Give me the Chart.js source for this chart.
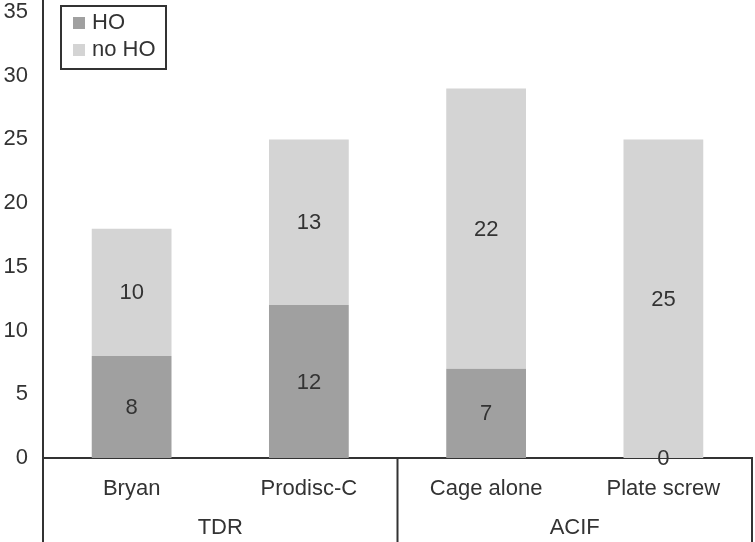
<!DOCTYPE html>
<html>
<head>
<meta charset="utf-8">
<script src="https://cdn.jsdelivr.net/npm/chart.js@4"></script>
<style>
  html, body { margin: 0; padding: 0; background: #fff; }
  #wrap { width: 755px; height: 542px; }
</style>
</head>
<body>
<div id="wrap"><canvas id="hoChart"></canvas></div>
<script>
const categories = ["Bryan", "Prodisc-C", "Cage alone", "Plate screw"];
const groups = ["TDR", "ACIF"];
const groupSizes = [2, 2];
const hoValues = [8, 12, 7, 0];
const noHoValues = [10, 13, 22, 25];

const FONT = "'Liberation Sans', Arial, sans-serif";
const INK = "#333333";

// data labels, legend box and the two-level x axis
const extras = {
  id: "extras",
  afterDatasetsDraw(chart) {
    const ctx = chart.ctx;
    ctx.save();
    ctx.font = "22px " + FONT;
    ctx.fillStyle = INK;
    ctx.textAlign = "center";
    ctx.textBaseline = "middle";
    chart.data.datasets.forEach((ds, i) => {
      chart.getDatasetMeta(i).data.forEach((bar, j) => {
        ctx.fillText(String(ds.data[j]), bar.x, (bar.y + bar.base) / 2 + 1);
      });
    });
    ctx.restore();
  },
  afterDraw(chart) {
    const ctx = chart.ctx;
    const area = chart.chartArea;
    const x = chart.scales.x;
    const H = chart.height;
    ctx.save();
    ctx.strokeStyle = INK;
    ctx.lineWidth = 2;

    // box lines of the category axis
    ctx.beginPath();
    ctx.moveTo(area.left, 0);
    ctx.lineTo(area.left, H);
    ctx.moveTo(area.right, area.bottom);
    ctx.lineTo(area.right, H);
    ctx.stroke();

    let start = 0;
    ctx.font = "22px " + FONT;
    ctx.fillStyle = INK;
    ctx.textAlign = "center";
    ctx.textBaseline = "middle";
    groups.forEach((g, gi) => {
      const end = start + groupSizes[gi] - 1;
      const half = (x.getPixelForValue(1) - x.getPixelForValue(0)) / 2;
      const l = x.getPixelForValue(start) - half;
      const r = x.getPixelForValue(end) + half;
      ctx.fillText(g, (l + r) / 2, area.bottom + 70);
      if (gi > 0) {
        ctx.beginPath();
        ctx.moveTo(l, area.bottom);
        ctx.lineTo(l, H);
        ctx.stroke();
      }
      start = end + 1;
    });

    // legend
    const lx = area.left + 18, ly = area.top - 6;
    ctx.strokeRect(lx, ly, 105, 63);
    chart.data.datasets.forEach((ds, i) => {
      ctx.fillStyle = ds.backgroundColor;
      ctx.fillRect(lx + 12, ly + 11 + i * 27, 12, 12);
      ctx.fillStyle = INK;
      ctx.textAlign = "left";
      ctx.fillText(ds.label, lx + 31, ly + 17 + i * 27);
    });
    ctx.restore();
  }
};

new Chart(document.getElementById("hoChart"), {
  type: "bar",
  data: {
    labels: categories,
    datasets: [
      { label: "HO", data: hoValues, backgroundColor: "#a0a0a0", barPercentage: 0.9, categoryPercentage: 0.5 },
      { label: "no HO", data: noHoValues, backgroundColor: "#d4d4d4", barPercentage: 0.9, categoryPercentage: 0.5 }
    ]
  },
  plugins: [extras],
  options: {
    responsive: true,
    maintainAspectRatio: false,
    animation: false,
    layout: { padding: { top: 12, right: 3, left: 0, bottom: 0 } },
    plugins: { legend: { display: false }, tooltip: { enabled: false } },
    scales: {
      x: {
        stacked: true,
        grid: { display: false, drawTicks: false },
        border: { display: true, color: INK, width: 2 },
        ticks: { color: INK, font: { family: FONT, size: 22 }, padding: 18, maxRotation: 0 },
        afterFit(s) { s.height = 84; }
      },
      y: {
        stacked: true,
        min: 0,
        max: 35,
        grid: { display: false, drawTicks: false },
        border: { display: false },
        ticks: { stepSize: 5, color: INK, font: { family: FONT, size: 22 }, padding: 15 },
        afterFit(s) { s.width = 43; s.paddingTop = 0; s.paddingBottom = 0; }
      }
    }
  }
});
</script>
</body>
</html>
